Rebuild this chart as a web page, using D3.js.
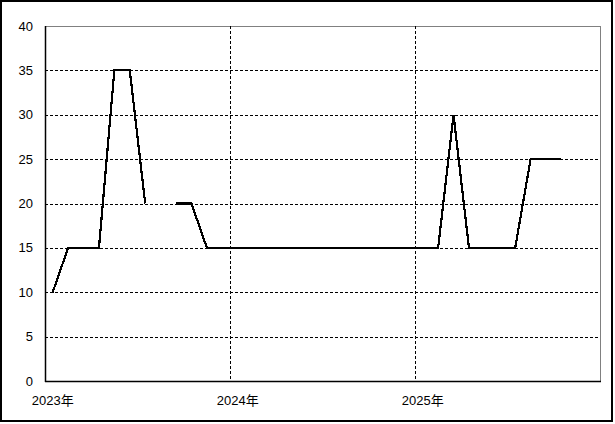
<!DOCTYPE html>
<html><head><meta charset="utf-8">
<script src="https://cdn.jsdelivr.net/npm/d3@7/dist/d3.min.js"></script>
<style>body{margin:0;background:#fff}svg{display:block}text{font-family:"Liberation Sans","Noto Sans CJK JP",sans-serif;font-size:13px;fill:#000}</style>
</head><body>
<script>
const months = [
 "2023-01","2023-02","2023-03","2023-04","2023-05","2023-06","2023-07","2023-08","2023-09","2023-10","2023-11","2023-12",
 "2024-01","2024-02","2024-03","2024-04","2024-05","2024-06","2024-07","2024-08","2024-09","2024-10","2024-11","2024-12",
 "2025-01","2025-02","2025-03","2025-04","2025-05","2025-06","2025-07","2025-08","2025-09","2025-10","2025-11","2025-12"];
const values = [
 10,15,15,15,35,35,20,null,20,20,15,15,
 15,15,15,15,15,15,15,15,15,15,15,15,
 15,15,30,15,15,15,15,25,25,25,null,null];
const yTicks = [0,5,10,15,20,25,30,35,40];
const xTickLabels = ["2023年","2024年","2025年"];
const xTickMonths = [0,12,24];

const W=615,H=424;
const L=45,R=600,T=26,B=381;
const svg=d3.select("body").append("svg").attr("width",W).attr("height",H);
svg.append("rect").attr("x",1).attr("y",1).attr("width",611).attr("height",420)
  .attr("fill","#fff").attr("stroke","#000").attr("stroke-width",2);

const x=d3.scaleLinear().domain([0,36]).range([L,R]);
const y=d3.scaleLinear().domain([0,40]).range([B,T]);

// top & right border gray
svg.append("line").attr("x1",L).attr("x2",R).attr("y1",T+0.5).attr("y2",T+0.5).attr("stroke","#808080");
svg.append("line").attr("x1",R+0.5).attr("x2",R+0.5).attr("y1",T).attr("y2",B).attr("stroke","#808080");

// horizontal grid
svg.append("g").selectAll("line").data(yTicks.filter(v=>v>0&&v<40)).join("line")
  .attr("x1",L).attr("x2",R).attr("y1",d=>Math.round(y(d))+0.5).attr("y2",d=>Math.round(y(d))+0.5)
  .attr("stroke","#000").attr("stroke-dasharray","3,2");
// vertical grid
svg.append("g").selectAll("line").data(xTickMonths.filter(m=>m>0)).join("line")
  .attr("x1",d=>Math.round(x(d))+0.5).attr("x2",d=>Math.round(x(d))+0.5).attr("y1",T).attr("y2",B)
  .attr("stroke","#000").attr("stroke-dasharray","3,2");

// axes lines
svg.append("line").attr("x1",L+0.5).attr("x2",L+0.5).attr("y1",T).attr("y2",B+1).attr("stroke","#000").attr("stroke-width",1.5);
svg.append("line").attr("x1",L).attr("x2",R+1).attr("y1",B+0.5).attr("y2",B+0.5).attr("stroke","#000").attr("stroke-width",1.5);

// y labels
svg.append("g").selectAll("text").data(yTicks).join("text")
  .attr("x",33).attr("y",d=>y(d)).attr("dy","0.35em").attr("text-anchor","end").text(d=>d);
// x labels
svg.append("g").selectAll("text").data(xTickMonths).join("text")
  .attr("x",d=>x(d+0.5)).attr("y",405).attr("text-anchor","middle").text((d,i)=>xTickLabels[i]);

// line
const data=months.map((m,i)=>({i,v:values[i]}));
const line=d3.line().defined(d=>d.v!=null).x(d=>x(d.i+0.5)).y(d=>y(d.v));
svg.append("path").datum(data).attr("d",line).attr("fill","none").attr("stroke","#000")
  .attr("stroke-width",2.2).attr("shape-rendering","crispEdges");
</script>
</body></html>
